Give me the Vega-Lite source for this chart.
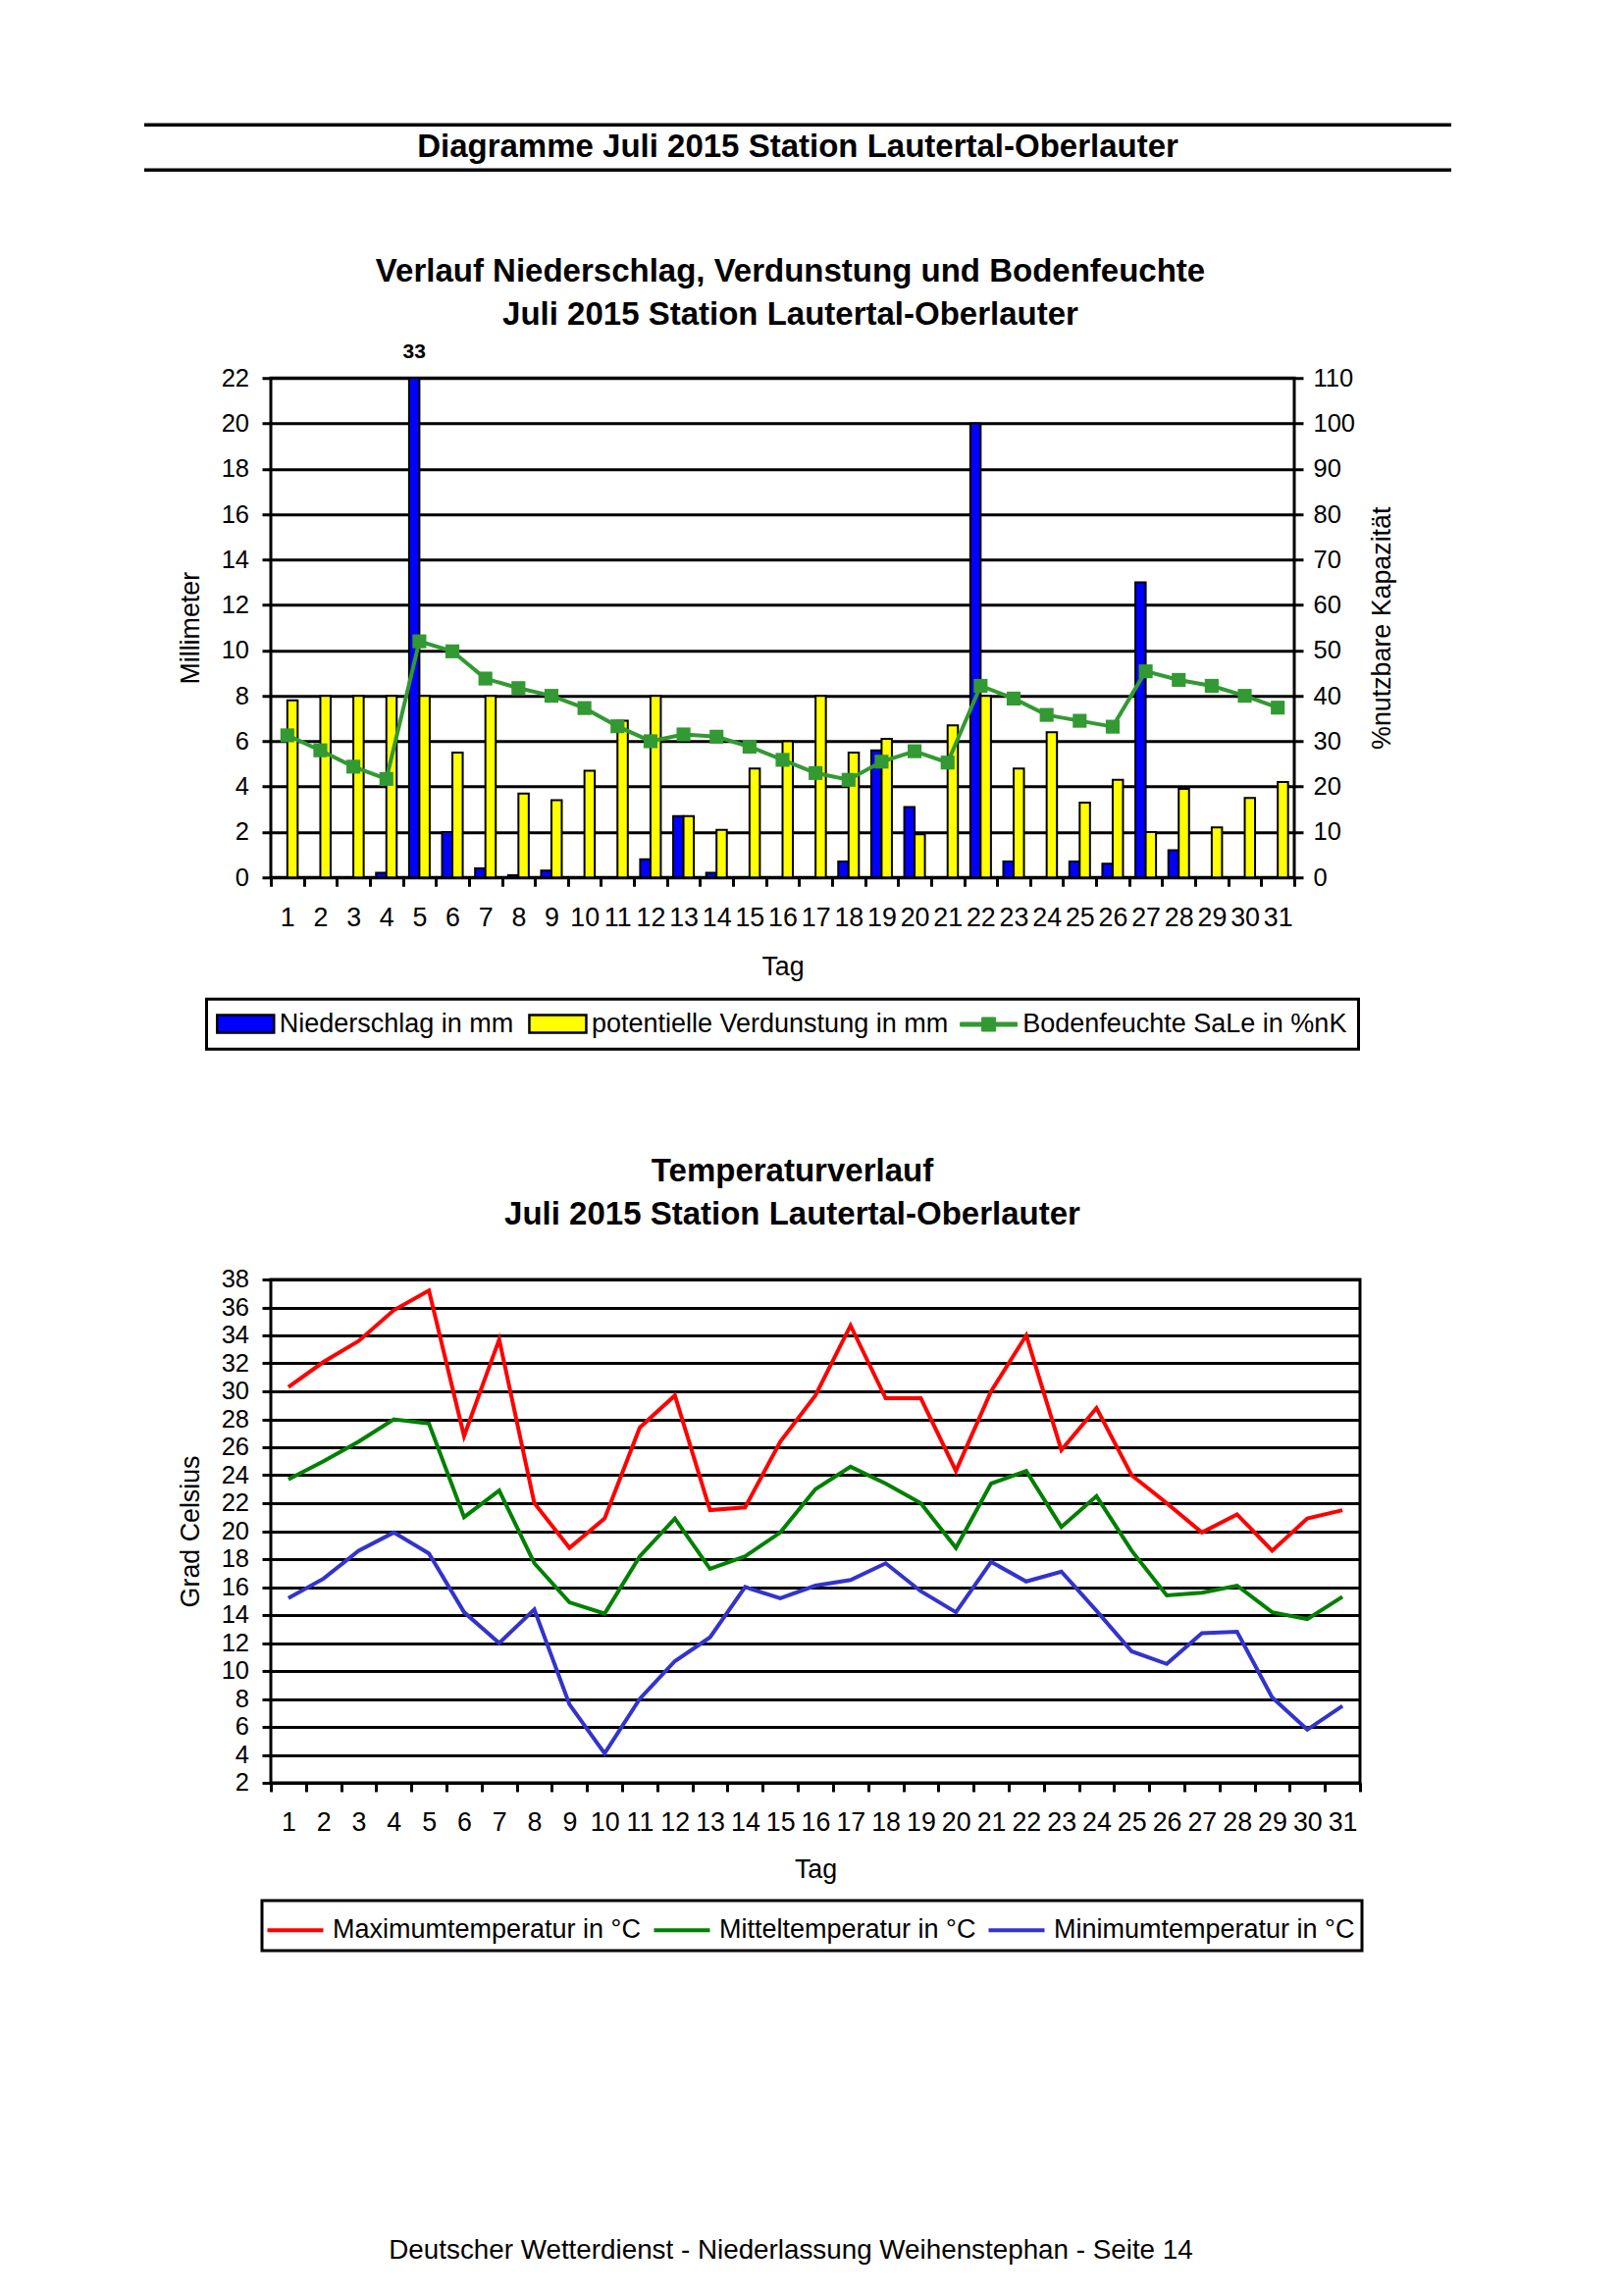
{
  "$schema": "https://vega.github.io/schema/vega-lite/v6.json",
  "background": "white",
  "padding": {"left": 145, "top": 125.25, "right": 10, "bottom": 10},
  "config": {"font": "Liberation Sans", "view": {"stroke": null}},
  "datasets": {
    "soil": [
      {"day": 1, "N": 0, "V": 7.8, "B": 31.3},
      {"day": 2, "N": 0, "V": 8.0, "B": 28.0},
      {"day": 3, "N": 0, "V": 8.0, "B": 24.4},
      {"day": 4, "N": 0.2, "V": 8.0, "B": 21.7},
      {"day": 5, "N": 33, "V": 8.0, "B": 52.0},
      {"day": 6, "N": 2.0, "V": 5.5, "B": 49.8},
      {"day": 7, "N": 0.4, "V": 8.0, "B": 43.8},
      {"day": 8, "N": 0.1, "V": 3.7, "B": 41.7},
      {"day": 9, "N": 0.3, "V": 3.4, "B": 40.0},
      {"day": 10, "N": 0, "V": 4.7, "B": 37.3},
      {"day": 11, "N": 0, "V": 6.9, "B": 33.3},
      {"day": 12, "N": 0.8, "V": 8.0, "B": 30.0},
      {"day": 13, "N": 2.7, "V": 2.7, "B": 31.5},
      {"day": 14, "N": 0.2, "V": 2.1, "B": 31.0},
      {"day": 15, "N": 0, "V": 4.8, "B": 28.8},
      {"day": 16, "N": 0, "V": 6.0, "B": 25.9},
      {"day": 17, "N": 0, "V": 8.0, "B": 23.0},
      {"day": 18, "N": 0.7, "V": 5.5, "B": 21.5},
      {"day": 19, "N": 5.6, "V": 6.1, "B": 25.5},
      {"day": 20, "N": 3.1, "V": 1.9, "B": 27.8},
      {"day": 21, "N": 0, "V": 6.7, "B": 25.3},
      {"day": 22, "N": 20.0, "V": 8.0, "B": 42.2},
      {"day": 23, "N": 0.7, "V": 4.8, "B": 39.4},
      {"day": 24, "N": 0, "V": 6.4, "B": 35.8},
      {"day": 25, "N": 0.7, "V": 3.3, "B": 34.5},
      {"day": 26, "N": 0.6, "V": 4.3, "B": 33.2},
      {"day": 27, "N": 13.0, "V": 2.0, "B": 45.4},
      {"day": 28, "N": 1.2, "V": 3.9, "B": 43.5},
      {"day": 29, "N": 0, "V": 2.2, "B": 42.2},
      {"day": 30, "N": 0, "V": 3.5, "B": 40.0},
      {"day": 31, "N": 0, "V": 4.2, "B": 37.4}
    ],
    "temp": [
      {"day": 1, "tmax": 30.3, "tmean": 23.7, "tmin": 15.2},
      {"day": 2, "tmax": 32.1, "tmean": 25.0, "tmin": 16.6},
      {"day": 3, "tmax": 33.6, "tmean": 26.4, "tmin": 18.6},
      {"day": 4, "tmax": 35.8, "tmean": 28.0, "tmin": 19.9},
      {"day": 5, "tmax": 37.2, "tmean": 27.7, "tmin": 18.4},
      {"day": 6, "tmax": 26.8, "tmean": 21.0, "tmin": 14.2},
      {"day": 7, "tmax": 33.7, "tmean": 22.9, "tmin": 12.0},
      {"day": 8, "tmax": 22.0, "tmean": 17.7, "tmin": 14.4},
      {"day": 9, "tmax": 18.8, "tmean": 14.9, "tmin": 7.6},
      {"day": 10, "tmax": 20.9, "tmean": 14.1, "tmin": 4.1},
      {"day": 11, "tmax": 27.4, "tmean": 18.2, "tmin": 8.0},
      {"day": 12, "tmax": 29.7, "tmean": 20.9, "tmin": 10.7},
      {"day": 13, "tmax": 21.5, "tmean": 17.3, "tmin": 12.4},
      {"day": 14, "tmax": 21.7, "tmean": 18.2, "tmin": 16.0},
      {"day": 15, "tmax": 26.4, "tmean": 19.9, "tmin": 15.2},
      {"day": 16, "tmax": 29.7, "tmean": 23.0, "tmin": 16.1},
      {"day": 17, "tmax": 34.7, "tmean": 24.6, "tmin": 16.5},
      {"day": 18, "tmax": 29.5, "tmean": 23.4, "tmin": 17.7},
      {"day": 19, "tmax": 29.5, "tmean": 22.0, "tmin": 15.7},
      {"day": 20, "tmax": 24.3, "tmean": 18.8, "tmin": 14.2},
      {"day": 21, "tmax": 30.0, "tmean": 23.4, "tmin": 17.8},
      {"day": 22, "tmax": 34.0, "tmean": 24.3, "tmin": 16.4},
      {"day": 23, "tmax": 25.8, "tmean": 20.3, "tmin": 17.1},
      {"day": 24, "tmax": 28.8, "tmean": 22.5, "tmin": 14.3},
      {"day": 25, "tmax": 24.0, "tmean": 18.6, "tmin": 11.4},
      {"day": 26, "tmax": 22.0, "tmean": 15.4, "tmin": 10.5},
      {"day": 27, "tmax": 19.9, "tmean": 15.6, "tmin": 12.7},
      {"day": 28, "tmax": 21.2, "tmean": 16.1, "tmin": 12.8},
      {"day": 29, "tmax": 18.6, "tmean": 14.2, "tmin": 8.1},
      {"day": 30, "tmax": 20.9, "tmean": 13.7, "tmin": 5.8},
      {"day": 31, "tmax": 21.5, "tmean": 15.3, "tmin": 7.5}
    ]
  },
  "spacing": 84,
  "resolve": {"scale": {"fill": "independent", "color": "independent"}, "legend": {"fill": "independent", "color": "independent"}},
  "vconcat": [
    {
      "width": 1332,
      "height": 46,
      "data": {"values": [{"t": "Diagramme Juli 2015 Station Lautertal-Oberlauter"}]},
      "layer": [
        {"mark": {"type": "rule", "strokeWidth": 3.5, "color": "black"},
         "encoding": {"y": {"datum": 1, "type": "quantitative", "scale": {"domain": [0, 1], "nice": false}, "axis": null}}},
        {"mark": {"type": "rule", "strokeWidth": 3.5, "color": "black"},
         "encoding": {"y": {"datum": 0, "type": "quantitative", "axis": null}}},
        {"mark": {"type": "text", "fontSize": 33, "fontWeight": "bold", "baseline": "middle", "color": "black"},
         "encoding": {"text": {"field": "t", "type": "nominal"}, "y": {"datum": 0.5, "type": "quantitative", "axis": null}}}
      ]
    },
    {
      "spacing": 0,
      "resolve": {"scale": {"fill": "independent", "color": "independent"}, "legend": {"fill": "independent", "color": "independent"}},
      "hconcat": [
        {
          "width": 32,
          "height": 10,
          "data": {"values": []},
          "mark": "point"
        },
        {
          "spacing": 103.7,
          "resolve": {"scale": {"fill": "independent", "color": "independent"}, "legend": {"fill": "independent", "color": "independent"}},
          "vconcat": [
            {
              "width": 1043,
              "height": 509,
              "view": {"stroke": "black", "strokeWidth": 3},
              "title": {
                "text": ["Verlauf Niederschlag, Verdunstung und Bodenfeuchte", "Juli 2015 Station Lautertal-Oberlauter"],
                "fontSize": 33, "fontWeight": "bold", "lineHeight": 44, "anchor": "middle", "frame": "group",
                "dx": 8, "offset": 10.5, "color": "black", "baseline": "top"
              },
              "data": {"name": "soil"},
              "resolve": {"scale": {"y": "independent"}},
              "layer": [
                {
                  "layer": [
                    {
                      "transform": [{"fold": ["N", "V"], "as": ["k", "mm"]}],
                      "mark": {"type": "bar", "stroke": "black", "strokeWidth": 2},
                      "encoding": {
                        "x": {"field": "day", "type": "ordinal", "title": "Tag",
                          "scale": {"type": "band", "paddingInner": 0, "paddingOuter": 0},
                          "axis": {"title": "Tag", "labelAngle": 0, "tickBand": "extent", "tickSize": 9, "tickWidth": 3,
                            "tickColor": "black", "domain": false, "grid": false, "labelFontSize": 26.8, "labelPadding": 19.5,
                            "labelColor": "black", "labelOverlap": false, "labelBound": false, "labelFlush": false,
                            "titleFontSize": 26.8, "titleFontWeight": "normal", "titleColor": "black", "titlePadding": 22.5}},
                        "xOffset": {"field": "k", "type": "nominal", "scale": {"paddingInner": 0, "paddingOuter": 0.6}},
                        "y": {"field": "mm", "type": "quantitative", "stack": null, "title": "Millimeter",
                          "scale": {"domain": [0, 22], "clamp": true, "nice": false},
                          "axis": {"title": "Millimeter", "values": [0, 2, 4, 6, 8, 10, 12, 14, 16, 18, 20, 22],
                            "grid": true, "gridColor": "black", "gridWidth": 3, "domain": false, "tickSize": 9, "tickWidth": 3,
                            "tickColor": "black", "labelFontSize": 25.5, "labelPadding": 13.5, "labelColor": "black",
                            "labelFlush": false, "labelOverlap": false, "titleFontSize": 26.8, "titleFontWeight": "normal",
                            "titleColor": "black", "titlePadding": 17}},
                        "fill": {"field": "k", "type": "nominal",
                          "scale": {"domain": ["N", "V", "B"], "range": ["#0000FF", "#FFFF00", "#339933"]},
                          "legend": {
                            "orient": "none", "legendX": -65.5, "legendY": 633, "direction": "horizontal", "title": null,
                            "labelExpr": "datum.value === 'N' ? 'Niederschlag in mm' : datum.value === 'V' ? 'potentielle Verdunstung in mm' : 'Bodenfeuchte SaLe in %nK'",
                            "labelFontSize": 27, "labelColor": "black", "labelLimit": 900, "labelOffset": 35.75, "columnPadding": 10.2,
                            "symbolType": "M-1.425,-0.9H4.375V0.9H-1.425Z", "symbolSize": 400, "symbolStrokeColor": "black",
                            "symbolStrokeWidth": 2.5, "symbolOpacity": 1,
                            "strokeColor": "black", "padding": 11.5,
                            "encode": {
                              "symbols": {"update": {
                                "shape": {"signal": "datum.value === 'B' ? 'M-1.425,-0.2H4.375V0.2H-1.425Z M0.775,-0.7H2.175V0.7H0.775Z' : 'M-1.425,-0.9H4.375V0.9H-1.425Z'"},
                                "stroke": {"signal": "datum.value === 'B' ? '#339933' : 'black'"},
                                "strokeWidth": {"signal": "datum.value === 'B' ? 1 : 2.5"}
                              }},
                              "legend": {"update": {"strokeWidth": {"value": 3}}}
                            }
                          }}
                      }
                    },
                    {
                      "transform": [{"fold": ["N"], "as": ["k", "mm"]}, {"filter": "datum.mm > 22"}],
                      "mark": {"type": "text", "fontSize": 21, "fontWeight": "bold", "baseline": "middle", "dy": -26, "color": "black"},
                      "encoding": {
                        "x": {"field": "day", "type": "ordinal", "title": "Tag", "scale": {"type": "band", "paddingInner": 0, "paddingOuter": 0}},
                        "xOffset": {"field": "k", "type": "nominal"},
                        "y": {"field": "mm", "type": "quantitative", "stack": null, "title": "Millimeter"},
                        "text": {"field": "mm", "type": "quantitative"}
                      }
                    }
                  ]
                },
                {
                  "layer": [
                    {
                      "mark": {"type": "line", "color": "#339933", "strokeWidth": 4},
                      "encoding": {
                        "x": {"field": "day", "type": "ordinal", "title": "Tag", "bandPosition": 0.5, "scale": {"type": "band", "paddingInner": 0, "paddingOuter": 0}},
                        "y": {"field": "B", "type": "quantitative", "title": "%nutzbare Kapazität", "scale": {"domain": [0, 110], "nice": false},
                          "axis": {"orient": "right", "title": "%nutzbare Kapazität", "titleAngle": 270, "titleBaseline": "top",
                            "values": [0, 10, 20, 30, 40, 50, 60, 70, 80, 90, 100, 110], "grid": false, "domain": false,
                            "tickSize": 9, "tickWidth": 3, "tickColor": "black", "labelFontSize": 25.5, "labelPadding": 10,
                            "labelColor": "black", "labelFlush": false, "labelOverlap": false, "titleFontSize": 26.8,
                            "titleFontWeight": "normal", "titleColor": "black", "titlePadding": 14.5}}
                      }
                    },
                    {
                      "mark": {"type": "point", "shape": "square", "filled": true, "size": 200, "color": "#339933", "opacity": 1},
                      "encoding": {
                        "x": {"field": "day", "type": "ordinal", "title": "Tag", "bandPosition": 0.5, "scale": {"type": "band", "paddingInner": 0, "paddingOuter": 0}},
                        "y": {"field": "B", "type": "quantitative", "title": "%nutzbare Kapazität",
                          "axis": {"orient": "right", "title": "%nutzbare Kapazität", "titleAngle": 270, "titleBaseline": "top",
                            "values": [0, 10, 20, 30, 40, 50, 60, 70, 80, 90, 100, 110], "grid": false, "domain": false,
                            "tickSize": 9, "tickWidth": 3, "tickColor": "black", "labelFontSize": 25.5, "labelPadding": 10,
                            "labelColor": "black", "labelFlush": false, "labelOverlap": false, "titleFontSize": 26.8,
                            "titleFontWeight": "normal", "titleColor": "black", "titlePadding": 14.5}}
                      }
                    }
                  ]
                }
              ]
            },
            {
              "width": 1110,
              "height": 513,
              "view": {"stroke": "black", "strokeWidth": 3},
              "title": {
                "text": ["Temperaturverlauf", "Juli 2015 Station Lautertal-Oberlauter"],
                "fontSize": 33, "fontWeight": "bold", "lineHeight": 44, "anchor": "middle", "frame": "group",
                "dx": -23.5, "offset": 37.2, "color": "black", "baseline": "top"
              },
              "data": {"name": "temp"},
              "transform": [{"fold": ["tmax", "tmean", "tmin"], "as": ["k", "t"]}],
              "mark": {"type": "line", "strokeWidth": 4},
              "encoding": {
                "x": {"field": "day", "type": "ordinal", "bandPosition": 0.5,
                  "scale": {"type": "band", "paddingInner": 0, "paddingOuter": 0},
                  "axis": {"title": "Tag", "labelAngle": 0, "tickBand": "extent", "tickSize": 9, "tickWidth": 3,
                    "tickColor": "black", "domain": false, "grid": false, "labelFontSize": 26.8, "labelPadding": 19,
                    "labelColor": "black", "labelOverlap": false, "labelBound": false, "labelFlush": false,
                    "titleFontSize": 26.8, "titleFontWeight": "normal", "titleColor": "black", "titlePadding": 20.5}},
                "y": {"field": "t", "type": "quantitative",
                  "scale": {"domain": [2, 38], "nice": false, "zero": false},
                  "axis": {"title": "Grad Celsius", "values": [2, 4, 6, 8, 10, 12, 14, 16, 18, 20, 22, 24, 26, 28, 30, 32, 34, 36, 38],
                    "grid": true, "gridColor": "black", "gridWidth": 3, "domain": false, "tickSize": 9, "tickWidth": 3,
                    "tickColor": "black", "labelFontSize": 25.5, "labelPadding": 13.5, "labelColor": "black",
                    "labelFlush": false, "labelOverlap": false, "titleFontSize": 26.8, "titleFontWeight": "normal",
                    "titleColor": "black", "titlePadding": 17}},
                "color": {"field": "k", "type": "nominal",
                  "scale": {"domain": ["tmax", "tmean", "tmin"], "range": ["#FF0000", "#008000", "#3333CC"]},
                  "legend": {
                    "orient": "none", "legendX": -9, "legendY": 633, "direction": "horizontal", "title": null,
                    "labelExpr": "datum.value === 'tmax' ? 'Maximumtemperatur in °C' : datum.value === 'tmean' ? 'Mitteltemperatur in °C' : 'Minimumtemperatur in °C'",
                    "labelFontSize": 27, "labelColor": "black", "labelLimit": 900, "labelOffset": 19.5, "columnPadding": 5,
                    "symbolType": "M-1.195,0H1.585", "symbolSize": 1681, "symbolStrokeWidth": 4,
                    "strokeColor": "black", "padding": 7.5,
                    "encode": {"legend": {"update": {"strokeWidth": {"value": 3}}}}
                  }}
              }
            }
          ]
        }
      ]
    },
    {
      "width": 1318,
      "height": 218.8,
      "data": {"values": [{"t": "Deutscher Wetterdienst - Niederlassung Weihenstephan - Seite 14"}]},
      "mark": {"type": "text", "fontSize": 27.8, "baseline": "middle", "color": "black"},
      "encoding": {
        "text": {"field": "t", "type": "nominal"},
        "y": {"datum": 0, "type": "quantitative", "scale": {"domain": [0, 1], "nice": false}, "axis": null}
      }
    }
  ]
}
